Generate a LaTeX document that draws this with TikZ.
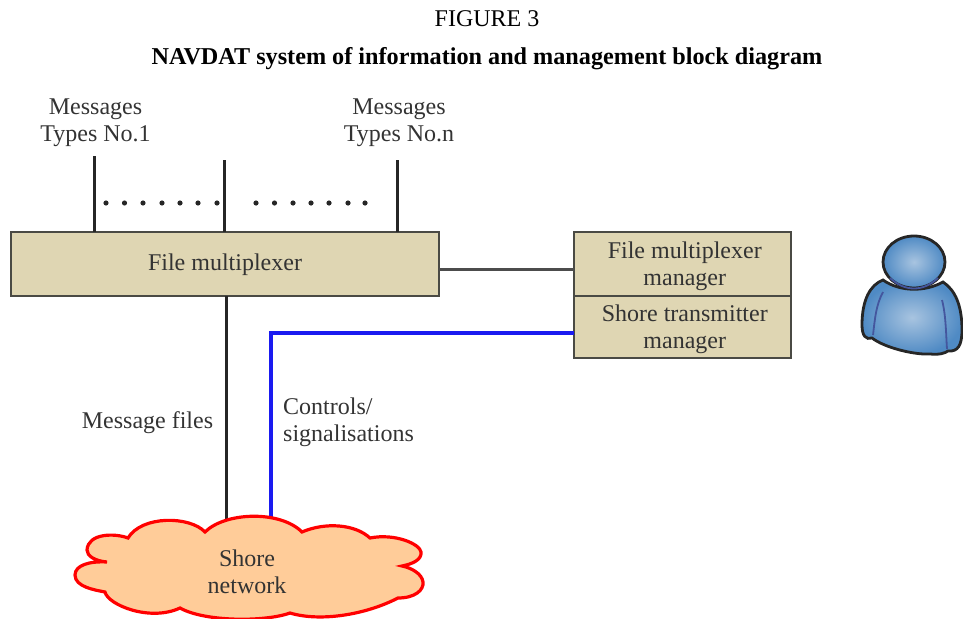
\documentclass[tikz,border=0pt]{standalone}
\usepackage{fontspec}
\setmainfont{Liberation Serif}
\definecolor{txt}{HTML}{333333}
\definecolor{boxfill}{HTML}{DFD6B3}
\definecolor{boxline}{HTML}{4A4A44}
\definecolor{cloudfill}{HTML}{FFCC99}
\definecolor{person}{HTML}{4F8AC4}
\definecolor{personlight}{HTML}{A8C4E0}
\definecolor{foldline}{HTML}{44569E}
\definecolor{netblue}{HTML}{1A1AF0}
\newcommand{\lowerline}{\rule{0pt}{19pt}}
\newcommand{\lowermore}{\rule{0pt}{22pt}}
\newcommand{\rightnudge}{\hspace*{4.5pt}}
\tikzset{
  label text/.style={text=txt,font=\fontsize{24}{27}\selectfont,align=center,inner sep=0pt},
  blockbox/.style={draw=boxline,fill=boxfill,line width=2.2pt,inner sep=0pt,text=txt,align=center,font=\fontsize{24}{27}\selectfont},
  wire/.style={draw=black!85,line width=3pt},
  bluewire/.style={draw=netblue,line width=3.4pt},
  dotrow/.style={draw=none,fill=black!85},
  personbody/.style={draw=black!85,line width=2.8pt,inner color=personlight,outer color=person},
  fold/.style={draw=foldline,line width=1.8pt}
}
\begin{document}
\begin{tikzpicture}[x=1pt,y=-1pt]
\useasboundingbox (0,0) rectangle (963,618);
\node[label text,text=black] (fig) at (487,19) {FIGURE 3};
\node[label text,text=black,font=\fontsize{24.2}{27}\selectfont\bfseries] (title) at (487,59) {NAVDAT system of information and management block diagram};
\node[label text,anchor=center] (m1) at (95.5,122.5) {Messages\\Types No.1};
\node[label text,anchor=center] (mn) at (399,122.5) {Messages\\Types No.n};
% boxes
\node[blockbox,minimum width=428pt,minimum height=64pt] (fm) at (225,264) {\lowerline File multiplexer};
\node[blockbox,minimum width=217pt,minimum height=64pt] (fmm) at (682.5,264) {\lowermore\rightnudge File multiplexer\\\rightnudge manager};
\node[blockbox,minimum width=217pt,minimum height=62pt] (stm) at (682.5,327) {\lowermore\rightnudge Shore transmitter\\\rightnudge manager};
% named ends
\coordinate (t1) at (94,156);
\coordinate (t2) at (224,160);
\coordinate (t3) at (397,160);
\coordinate (b1) at (94,232);
\coordinate (b2) at (224,232);
\coordinate (b3) at (397,232);
\coordinate (fmb) at (226,296);
\coordinate (n1) at (226,522);
\coordinate (n2) at (271,522);
\coordinate (sl) at (574,333);
\coordinate (bend) at (271,333);
\coordinate (fmr) at (439,269);
\coordinate (fml) at (574,269);
\draw[wire] (t1) -- (b1);
\draw[wire] (t2) -- (b2);
\draw[wire] (t3) -- (b3);
\draw[wire] (fmb) -- (n1);
\draw[wire,draw=black!70] (fmr) -- (fml);
\draw[bluewire] (sl) -- (bend) -- (n2);
\foreach \x in {106,124.5,143,162,180,198,217,256,274.5,293,311,329,348,365}
  \fill[dotrow] (\x,203) circle (2.6pt);
\node[label text] (mf) at (147.5,422.5) {Message files};
\node[label text,align=left,anchor=west] (cs) at (283,422.5) {Controls/\\signalisations};
% cloud
\path[draw=red,line width=3.2pt,fill=cloudfill]
 (205,532) .. controls (190,516) and (142,515) .. (128,538)
 .. controls (115,533) and (88,533) .. (87,550)
 .. controls (87,556) and (95,561) .. (107,562)
 .. controls (90,561) and (75,565) .. (75,575)
 .. controls (75,587) and (95,590) .. (105,592)
 .. controls (108,605) and (150,622) .. (180,608)
 .. controls (205,622) and (265,622) .. (290,613)
 .. controls (320,622) and (365,615) .. (398,598)
 .. controls (415,598) and (424,590) .. (423,582)
 .. controls (422,574) and (412,568) .. (402,566)
 .. controls (412,564) and (422,560) .. (421,552)
 .. controls (420,544) and (395,533) .. (370,538)
 .. controls (355,524) and (325,522) .. (302,532)
 .. controls (280,510) and (225,512) .. (205,532) -- cycle;
\node[label text] (sn) at (247,571.5) {Shore\\network};
% person
\path[personbody]
 (883,280) .. controls (870,285) and (862,300) .. (862,325)
 .. controls (862,336) and (866,340) .. (872,338)
 .. controls (885,348) and (915,355) .. (930,354)
 .. controls (940,355) and (945,353) .. (948,351)
 .. controls (958,352) and (962,345) .. (962,330)
 .. controls (962,305) and (955,290) .. (943,282)
 .. controls (925,292) and (900,292) .. (883,280) -- cycle;
\draw[fold] (883,292) .. controls (876,305) and (875,318) .. (873,335);
\draw[fold] (942,300) .. controls (946,315) and (946,335) .. (947,349);
\path[personbody] (914,262) ellipse (31pt and 26pt);
\draw[fold] (890,278) .. controls (905,292) and (923,292) .. (938,278);
\end{tikzpicture}
\end{document}
